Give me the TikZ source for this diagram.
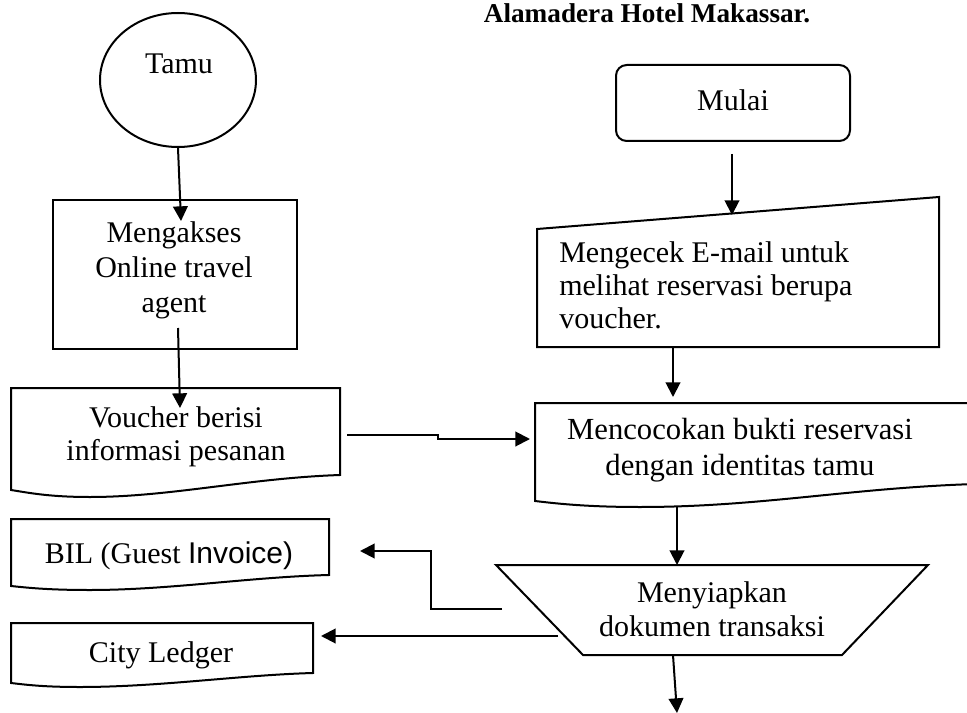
\documentclass[tikz,border=0pt]{standalone}
\usepackage{fontspec}
\setmainfont{Liberation Serif}
\newfontfamily\arialfont{Liberation Sans}
\usetikzlibrary{arrows.meta,shapes.geometric}
\begin{document}
\begin{tikzpicture}[x=0.75pt,y=-0.75pt,
  outline/.style={draw, line width=1.5pt, line join=miter},
  arr/.style={line width=1.5pt, -{Triangle[length=11pt,width=11pt]}},
  txt/.style={font=\fontsize{22.5}{24.75}\selectfont, align=center, inner sep=0pt},
  ]
\useasboundingbox (0,0) rectangle (967,713);
\clip (0,0) rectangle (967,713);

% title
\node[font=\fontsize{20.4}{22}\bfseries\selectfont, anchor=base, inner sep=0pt] (title) at (647,23) {Alamadera Hotel Makassar.};

% left column
\node[draw, ellipse, line width=1.5pt, minimum width=117pt, minimum height=100.5pt, inner sep=0pt] (tamu) at (178,80) {};
\node[txt, anchor=base] (tamutxt) at (179,74) {Tamu};

\node[draw, line width=1.5pt, minimum width=183pt, minimum height=111.75pt, inner sep=0pt] (mengakses) at (175,274.5) {};
\node[txt, font=\fontsize{22.5}{26.25}\selectfont] (mengaksestxt) at (174,270) {Mengakses\\Online travel\\agent};

\draw[outline] (11,388) -- (340,388) -- (340,475) .. controls (250,478) and (170,497) .. (90,497) .. controls (50,497) and (30,493) .. (11,490) -- cycle;
\node[txt] (voucher) at (176,436.5) {Voucher berisi\\informasi pesanan};

\draw[outline] (11,519) -- (329,519) -- (329,575) .. controls (250,577) and (170,590) .. (90,590) .. controls (50,590) and (30,588) .. (11,586) -- cycle;
\node[txt, anchor=base] (bil) at (169,563) {BIL (Guest {\arialfont Invoice)}};

\draw[outline] (11,623) -- (313,623) -- (313,673) .. controls (240,675) and (160,687) .. (80,687) .. controls (45,687) and (28,685) .. (11,683) -- cycle;
\node[txt, anchor=base] (city) at (161,662) {City Ledger};

% right column
\node[draw, line width=1.5pt, rounded corners=8pt, minimum width=175.5pt, minimum height=57pt, inner sep=0pt] (mulai) at (733,103) {};
\node[txt, anchor=base] (mulaitxt) at (733,111) {Mulai};

\draw[outline] (537,229) -- (939,197) -- (939,347) -- (537,347) -- cycle;
\node[txt, align=left, anchor=west] (mengecek) at (559,285) {Mengecek E-mail untuk\\melihat reservasi berupa\\voucher.};

\draw[outline] (535,403) -- (975,403) -- (975,484) .. controls (850,488) and (760,507) .. (640,507) .. controls (590,507) and (560,504) .. (535,501) -- cycle;
\node[txt, font=\fontsize{23}{27}\selectfont] (mencocokan) at (740,450.5) {Mencocokan bukti reservasi\\dengan identitas tamu};

\draw[outline] (496,565) -- (928,565) -- (842,655) -- (583,655) -- cycle;
\node[txt, font=\fontsize{22.5}{25.5}\selectfont] (menyiapkan) at (712,609.5) {Menyiapkan\\dokumen transaksi};

% connector points
\coordinate (a1e) at (181,221);
\coordinate (a2s) at (178,328);
\coordinate (a2e) at (180,408);
\coordinate (a3s) at (732,154);
\coordinate (a3e) at (732,215);
\coordinate (a4s) at (673,347);
\coordinate (a4e) at (673,397);
\coordinate (a5s) at (347,435);
\coordinate (a5m1) at (438,435);
\coordinate (a5m2) at (438,439);
\coordinate (a5e) at (530,439);
\coordinate (a6s) at (677,507);
\coordinate (a6e) at (677,565);
\coordinate (a7s) at (502,609);
\coordinate (a7m1) at (431,609);
\coordinate (a7m2) at (431,551);
\coordinate (a7e) at (360,551);
\coordinate (a8s) at (558,636);
\coordinate (a8e) at (321,636);
\coordinate (a9s) at (673,655);
\coordinate (a9e) at (677,713);

% connectors
\draw[arr] (tamu.south) -- (a1e);
\draw[arr] (a2s) -- (a2e);
\draw[arr] (a3s) -- (a3e);
\draw[arr] (a4s) -- (a4e);
\draw[arr] (a5s) -- (a5m1) -- (a5m2) -- (a5e);
\draw[arr] (a6s) -- (a6e);
\draw[arr] (a7s) -- (a7m1) -- (a7m2) -- (a7e);
\draw[arr] (a8s) -- (a8e);
\draw[arr] (a9s) -- (a9e);
\end{tikzpicture}
\end{document}
